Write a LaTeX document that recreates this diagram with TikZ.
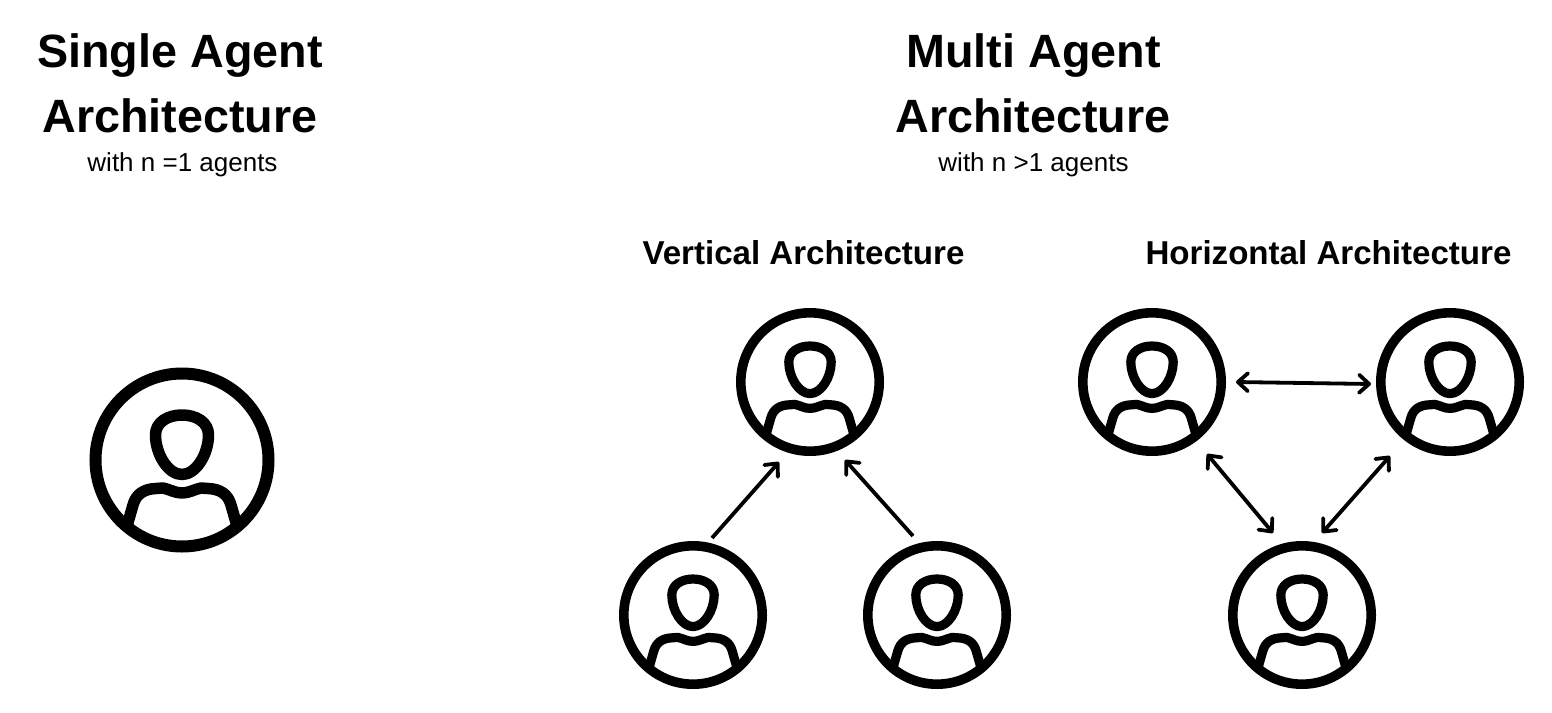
\documentclass[tikz,border=0pt]{standalone}
\usepackage{fontspec}
\setmainfont{Liberation Sans}
\usetikzlibrary{arrows.meta}
\tikzset{
  agentring/.style={circle,draw=black,fill=white,inner sep=0pt,outer sep=0pt},
  bigtitle/.style={font=\fontsize{46.7}{50}\selectfont\bfseries,anchor=base,inner sep=0pt},
  subtitle/.style={font=\fontsize{26}{30}\selectfont,anchor=base,inner sep=0pt},
  sectitle/.style={font=\fontsize{33.1}{38}\selectfont\bfseries,anchor=base,inner sep=0pt},
  link/.style={line width=3.8pt,draw=black},
  tip/.tip={Straight Barb[length=10pt,width=18pt,line width=3.8pt,round]},
  oneway/.style={link,-{tip}},
  twoway/.style={link,{tip}-{tip}}
}
\newcommand{\agentnode}[4]{%
  \node[agentring,minimum size=#4*173pt,line width=#4*12pt] (#1) at (#2,#3) {};
  \begin{scope}[shift={(#1.center)},x=#4*1pt,y=-#4*1pt,line width=#4*11.5pt,line join=round]
    \draw (0,-45) .. controls (-14,-45) and (-26.5,-38) .. (-26.5,-25)
      .. controls (-26.5,-6) and (-14,14.5) .. (0,14.5)
      .. controls (14,14.5) and (26.5,-6) .. (26.5,-25)
      .. controls (26.5,-38) and (14,-45) .. (0,-45) -- cycle;
    \draw (-55,66) -- (-49,45) .. controls (-46,34) and (-38,29) .. (-26,28.5)
      -- (-19,28) .. controls (-12,29.5) and (-7,33) .. (0,33)
      .. controls (7,33) and (12,29.5) .. (19,28)
      -- (26,28.5) .. controls (38,29) and (46,34) .. (49,45) -- (55,66);
  \end{scope}}
\begin{document}
\begin{tikzpicture}[x=1pt,y=-1pt]
\useasboundingbox (0,0) rectangle (1552,712);
\node[bigtitle] (t1a) at (180,67.5) {Single Agent};
\node[bigtitle] (t1b) at (180,132.5) {Architecture};
\node[subtitle] (s1) at (182.5,171) {with n =1 agents};
\node[bigtitle] (t2a) at (1033.5,67.5) {Multi Agent};
\node[bigtitle] (t2b) at (1033,132.5) {Architecture};
\node[subtitle] (s2) at (1033.5,171) {with n >1 agents};
\node[sectitle] (v) at (803.5,264) {Vertical Architecture};
\node[sectitle] (h) at (1328.5,264) {Horizontal Architecture};
\agentnode{single}{182}{460}{1}
\agentnode{vtop}{810}{382}{0.8}
\agentnode{vleft}{693}{615}{0.8}
\agentnode{vright}{937}{615}{0.8}
\agentnode{hleft}{1152}{382}{0.8}
\agentnode{hright}{1450}{382}{0.8}
\agentnode{hbottom}{1302}{615}{0.8}
\coordinate (a1) at (712,538); \coordinate (a2) at (779,462);
\coordinate (b1) at (913,536); \coordinate (b2) at (845,460);
\coordinate (c1) at (1236,382); \coordinate (c2) at (1371,384);
\coordinate (d1) at (1207,454); \coordinate (d2) at (1273,533);
\coordinate (e1) at (1390,456); \coordinate (e2) at (1322,533);
\draw[oneway] (a1) -- (a2);
\draw[oneway] (b1) -- (b2);
\draw[twoway] (c1) -- (c2);
\draw[twoway] (d1) -- (d2);
\draw[twoway] (e1) -- (e2);
\end{tikzpicture}
\end{document}
